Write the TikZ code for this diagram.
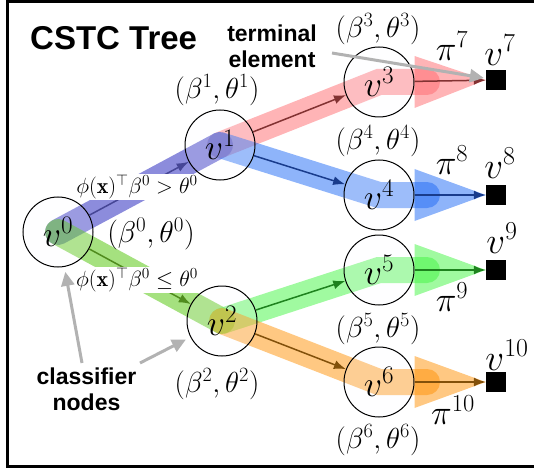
\RequirePackage{fix-cm}
\documentclass[tikz,border=0pt]{standalone}
\usepackage{fontspec}
\usepackage{amsmath}
\usetikzlibrary{arrows.meta}
\newfontfamily\labelfont{Liberation Sans}
\definecolor{purpband}{RGB}{25,25,185}
\definecolor{redband}{RGB}{255,105,110}
\definecolor{blueband}{RGB}{30,105,245}
\definecolor{limeband}{RGB}{75,195,0}
\definecolor{greenband}{RGB}{65,245,65}
\definecolor{orangeband}{RGB}{255,145,5}
\definecolor{purpdark}{RGB}{70,70,150}
\definecolor{reddark}{RGB}{130,50,50}
\definecolor{bluedark}{RGB}{25,60,140}
\definecolor{limedark}{RGB}{80,140,30}
\definecolor{greendark}{RGB}{30,130,30}
\definecolor{orangedark}{RGB}{130,80,10}
\pgfdeclarelayer{background}
\pgfsetlayers{background,main}
\tikzset{
  classnode/.style={circle, draw, line width=1pt, minimum size=70pt, inner sep=0pt,
    fill=blue!4, fill opacity=0.15, text opacity=1, font=\fontsize{36}{40}\selectfont},
  leaf/.style={fill=black, minimum size=20pt, inner sep=0pt},
  band/.style={line width=26pt, line cap=round, opacity=0.5},
  cone/.style={opacity=0.5},
  flow/.style={line width=1.5pt, -{Latex[length=12pt,width=9pt]}},
  pointer/.style={draw=black!30, line width=3pt, -{Triangle[length=14pt,width=13pt]}},
  param/.style={font=\fontsize{29}{33}\selectfont},
  policy/.style={font=\fontsize{35}{39}\selectfont},
  leaflabel/.style={font=\fontsize{37}{41}\selectfont},
  cond/.style={fill=white, inner sep=1pt, font=\fontsize{22}{25}\selectfont},
  annot/.style={font=\fontsize{23}{26}\selectfont\labelfont\bfseries, align=center, inner sep=0pt}
}
\begin{document}
\begin{tikzpicture}[x=1pt,y=-1pt]
\useasboundingbox (0,0) rectangle (534,470);
\draw[line width=3pt] (7.5,1.5) rectangle (560,466.5);

\node[classnode] (v0) at (58,232) {$v^0$};
\node[classnode] (v1) at (220,145) {$v^1$};
\node[classnode] (v2) at (222,321) {$v^2$};
\node[classnode] (v3) at (379,82) {$v^3$};
\node[classnode] (v4) at (379,195) {$v^4$};
\node[classnode] (v5) at (379,270) {$v^5$};
\node[classnode] (v6) at (379,382) {$v^6$};
\node[leaf] (v7) at (496,80) {};
\node[leaf] (v8) at (496,195) {};
\node[leaf] (v9) at (496,270) {};
\node[leaf] (v10) at (496,382) {};

\begin{pgfonlayer}{background}
\draw[band, purpband] (v0.center) -- (v1.center);
\draw[band, limeband] (v0.center) -- (v2.center);
\draw[band, redband] (v1.center) -- (v3.center) -- ++(48,0);
\draw[band, blueband] (v1.center) -- (v4.center) -- ++(48,0);
\draw[band, greenband] (v2.center) -- (v5.center) -- ++(48,0);
\draw[band, orangeband] (v2.center) -- (v6.center) -- ++(48,0);
\fill[cone, redband] ([yshift=26pt]v3.east) -- ([yshift=-26pt]v3.east) -- (v7.west) -- cycle;
\fill[cone, blueband] ([yshift=26pt]v4.east) -- ([yshift=-26pt]v4.east) -- (v8.west) -- cycle;
\fill[cone, greenband] ([yshift=26pt]v5.east) -- ([yshift=-26pt]v5.east) -- (v9.west) -- cycle;
\fill[cone, orangeband] ([yshift=26pt]v6.east) -- ([yshift=-26pt]v6.east) -- (v10.west) -- cycle;
\end{pgfonlayer}

\draw[flow, purpdark] (v0) -- (v1);
\draw[flow, limedark] (v0) -- (v2);
\draw[flow, reddark] (v1) -- (v3);
\draw[flow, bluedark] (v1) -- (v4);
\draw[flow, greendark] (v2) -- (v5);
\draw[flow, orangedark] (v2) -- (v6);
\draw[flow, reddark] (v3) -- (v7);
\draw[flow, bluedark] (v4) -- (v8);
\draw[flow, greendark] (v5) -- (v9);
\draw[flow, orangedark] (v6) -- (v10);

\node[cond] (c0) at (137,187) {$\phi(\mathbf{x})^\top\beta^0>\theta^0$};
\node[cond] (c1) at (137,280) {$\phi(\mathbf{x})^\top\beta^0\leq\theta^0$};

\node[param, font=\fontsize{30}{34}\selectfont] (p0) at (151,234) {$(\beta^0,\theta^0)$};
\node[param] (p1) at (217,90) {$(\beta^1,\theta^1)$};
\node[param] (p2) at (217,384) {$(\beta^2,\theta^2)$};
\node[param] (p3) at (378,29) {$(\beta^3,\theta^3)$};
\node[param] (p4) at (378,141) {$(\beta^4,\theta^4)$};
\node[param] (p5) at (378,329) {$(\beta^5,\theta^5)$};
\node[param] (p6) at (378,440) {$(\beta^6,\theta^6)$};

\node[policy] (pi7) at (452,46) {$\pi^7$};
\node[policy] (pi8) at (452,160) {$\pi^8$};
\node[policy] (pi9) at (452,297) {$\pi^9$};
\node[policy] (pi10) at (453,410) {$\pi^{10}$};

\node[leaflabel] (l7) at (500,50) {$v^7$};
\node[leaflabel] (l8) at (500,163) {$v^8$};
\node[leaflabel] (l9) at (502,238) {$v^9$};
\node[leaflabel] (l10) at (507,355) {$v^{10}$};

\node[annot, font=\fontsize{33}{36}\selectfont\labelfont\bfseries, anchor=base west] (title) at (30,50) {CSTC Tree};
\node[annot, anchor=north] (termtext) at (272,25) {terminal\\element};
\node[annot, anchor=north] (clstext) at (86.5,368) {classifier\\nodes};

\coordinate (termtail) at (332,53);
\coordinate (clstail0) at (82,363);
\coordinate (clstail2) at (140,363);
\draw[pointer, shorten >=2pt] (termtail) -- (v7);
\draw[pointer, shorten >=5pt] (clstail0) -- (v0);
\draw[pointer, shorten >=5pt] (clstail2) -- (v2);
\end{tikzpicture}
\end{document}
